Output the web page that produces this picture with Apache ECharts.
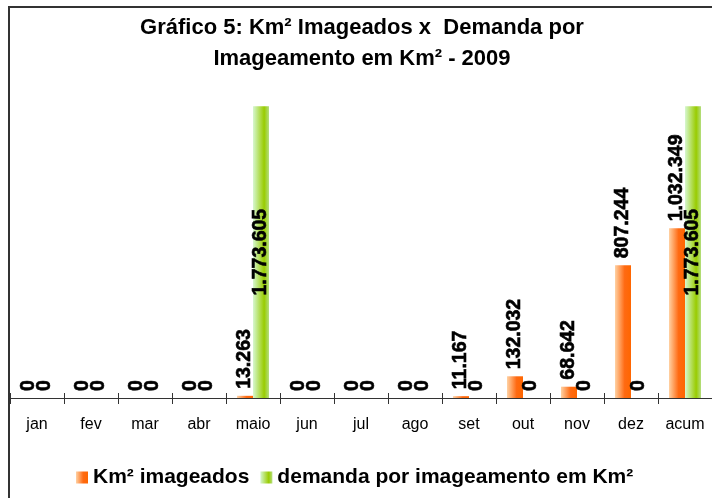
<!DOCTYPE html>
<html>
<head>
    <meta charset="UTF-8">
    <title>Gráfico 5</title>
    <style>
        html, body { margin: 0; padding: 0; background: #fff; }
        #chart { width: 712px; height: 498px; }
    </style>
    <script src="https://cdn.jsdelivr.net/npm/echarts@6/dist/echarts.min.js"></script>
</head>
<body>
<div id="chart"></div>
<script type="text/javascript">
    // meses + acumulado
    var categories = ['jan', 'fev', 'mar', 'abr', 'maio', 'jun', 'jul', 'ago', 'set', 'out', 'nov', 'dez', 'acum'];
    var kmImageados = [0, 0, 0, 0, 13263, 0, 0, 0, 11167, 132032, 68642, 807244, 1032349];
    var demanda = [0, 0, 0, 0, 1773605, 0, 0, 0, 0, 0, 0, 0, 1773605];
    var yMax = 1800000;

    // separador de milhar com ponto
    function fmt(v) {
        return String(v).replace(/\B(?=(\d{3})+(?!\d))/g, '.');
    }

    // barra que encosta no topo: rótulo vai para dentro
    function toData(arr) {
        return arr.map(function (v) {
            if (v > yMax * 0.9) {
                return { value: v, label: { position: 'inside', align: 'center' } };
            }
            return v;
        });
    }

    var font = 'Liberation Sans, Arial, sans-serif';
    var barLabel = {
        show: true,
        position: 'top',
        distance: 7,
        rotate: 90,
        align: 'left',
        verticalAlign: 'middle',
        color: '#000',
        fontFamily: font,
        fontWeight: 'bold',
        fontSize: 19.5,
        textBorderColor: '#000',
        textBorderWidth: 0.6,
        formatter: function (p) { return fmt(p.value); }
    };

    var orange = new echarts.graphic.LinearGradient(0, 0, 1, 0, [
        { offset: 0, color: '#ffd2a4' },
        { offset: 0.6, color: '#ff6a12' },
        { offset: 1, color: '#ff6600' }
    ]);
    var green = new echarts.graphic.LinearGradient(0, 0, 1, 0, [
        { offset: 0, color: '#d6f7d0' },
        { offset: 0.7, color: '#99cc00' },
        { offset: 1, color: '#b4de80' }
    ]);

    var chart = echarts.init(document.getElementById('chart'));
    var option = {
        animation: false,
        title: {
            text: 'Gráfico 5: Km² Imageados x  Demanda por\nImageamento em Km² - 2009',
            left: 362,
            top: 12,
            padding: 0,
            textAlign: 'center',
            textStyle: {
                fontFamily: font,
                fontWeight: 'bold',
                fontSize: 22,
                lineHeight: 31,
                color: '#000'
            }
        },
        legend: {
            left: 76,
            top: 467,
            padding: 0,
            itemWidth: 12,
            itemHeight: 12,
            itemGap: 11,
            icon: 'rect',
            textStyle: {
                fontFamily: font,
                fontWeight: 'bold',
                fontSize: 21,
                color: '#000'
            },
            data: ['Km² imageados', 'demanda por imageamento em Km²']
        },
        grid: {
            left: 10,
            width: 709,
            top: 102,
            bottom: 100
        },
        xAxis: [{
            type: 'category',
            data: categories,
            axisLine: { lineStyle: { color: '#333', width: 1 } },
            axisTick: { show: true, length: 6, lineStyle: { color: '#333' } },
            axisLabel: {
                color: '#000',
                fontFamily: font,
                fontSize: 16,
                margin: 19
            }
        }, {
            // marcas cruzando o eixo (parte de cima)
            type: 'category',
            data: categories,
            position: 'bottom',
            axisLine: { show: false },
            axisTick: { show: true, inside: true, length: 5, lineStyle: { color: '#333' } },
            axisLabel: { show: false }
        }],
        yAxis: {
            type: 'value',
            min: 0,
            max: yMax,
            show: false,
            splitLine: { show: false }
        },
        graphic: [{
            type: 'rect',
            shape: { x: 9, y: 7, width: 730, height: 520 },
            style: { fill: 'none', stroke: '#333', lineWidth: 2 },
            silent: true
        }],
        series: [{
            name: 'Km² imageados',
            type: 'bar',
            barWidth: 16,
            barGap: '0%',
            itemStyle: { color: orange },
            label: barLabel,
            data: toData(kmImageados)
        }, {
            name: 'demanda por imageamento em Km²',
            type: 'bar',
            barWidth: 16,
            barGap: '0%',
            itemStyle: { color: green },
            label: barLabel,
            data: toData(demanda)
        }]
    };
    chart.setOption(option);
</script>
</body>
</html>
